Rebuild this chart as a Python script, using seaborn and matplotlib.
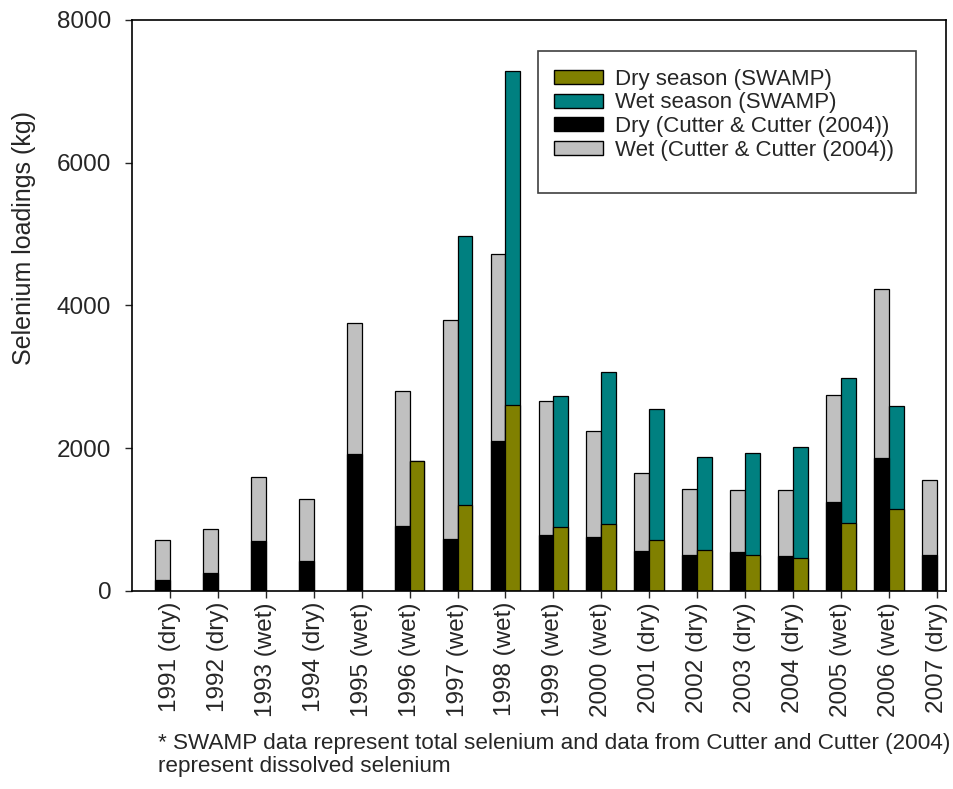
import numpy as np
import pandas as pd
import seaborn as sns
import matplotlib.pyplot as plt
from matplotlib.patches import Patch, Rectangle

years = ['1991 (dry)', '1992 (dry)', '1993 (wet)', '1994 (dry)', '1995 (wet)',
         '1996 (wet)', '1997 (wet)', '1998 (wet)', '1999 (wet)', '2000 (wet)',
         '2001 (dry)', '2002 (dry)', '2003 (dry)', '2004 (dry)', '2005 (wet)',
         '2006 (wet)', '2007 (dry)']

# Cutter & Cutter (2004), dissolved selenium (kg)
cutter_dry = [150, 250, 700, 420, 1920, 910, 730, 2100, 790, 760,
              560, 500, 550, 490, 1250, 1860, 500]
cutter_wet = [565, 620, 900, 875, 1840, 1895, 3060, 2620, 1875, 1475,
              1090, 925, 860, 920, 1490, 2375, 1060]

# SWAMP, total selenium (kg)
nan = np.nan
swamp_dry = [nan, nan, nan, nan, nan, 1820, 1205, 2600, 895, 937,
             711, 570, 500, 466, 951, 1153, nan]
swamp_wet = [nan, nan, nan, nan, nan, 0, 3765, 4690, 1835, 2128,
             1834, 1302, 1433, 1547, 2032, 1435, nan]

sources = ['Cutter', 'SWAMP']

df = pd.concat([
    pd.DataFrame({'year': years, 'source': 'Cutter',
                  'dry': cutter_dry, 'wet': cutter_wet}),
    pd.DataFrame({'year': years, 'source': 'SWAMP',
                  'dry': swamp_dry, 'wet': swamp_wet}),
], ignore_index=True)
df['total'] = df['dry'] + df['wet']

sns.set_style('ticks')
plt.rcParams['font.family'] = ['Liberation Sans', 'DejaVu Sans']

fig = plt.figure(figsize=(9.54, 7.89), dpi=100)
ax = fig.add_axes([0.1384, 0.2510, 0.8532, 0.7237])

# total (wet on top) first, then the dry part drawn over it from zero
sns.barplot(data=df, x='year', y='total', hue='source', hue_order=sources,
            order=years, palette={'Cutter': '#c0c0c0', 'SWAMP': '#008080'},
            width=0.62, dodge=True, saturation=1, errorbar=None,
            edgecolor='black', linewidth=0.9, legend=False, ax=ax)
sns.barplot(data=df, x='year', y='dry', hue='source', hue_order=sources,
            order=years, palette={'Cutter': '#000000', 'SWAMP': '#808000'},
            width=0.62, dodge=True, saturation=1, errorbar=None,
            edgecolor='black', linewidth=0.9, legend=False, ax=ax)

ax.set_xlim(-0.79, 16.19)
ax.set_ylim(0, 8000)
ax.set_yticks([0, 2000, 4000, 6000, 8000])
ax.set_xlabel('')
ax.set_ylabel('Selenium loadings (kg)', fontsize=18)
ax.yaxis.set_label_coords(-0.118, 0.618)
ax.tick_params(axis='x', labelrotation=90, labelsize=17.5, length=5, width=1, pad=3)
ax.tick_params(axis='y', labelsize=17.5, length=5, width=1, pad=10)
for s in ax.spines.values():
    s.set_linewidth(1.2)
    s.set_color('black')

handles = [Patch(facecolor='#808000', edgecolor='black', label='Dry season (SWAMP)'),
           Patch(facecolor='#008080', edgecolor='black', label='Wet season (SWAMP)'),
           Patch(facecolor='#000000', edgecolor='black', label='Dry (Cutter & Cutter (2004))'),
           Patch(facecolor='#c0c0c0', edgecolor='black', label='Wet (Cutter & Cutter (2004))')]
ax.legend(handles=handles, loc='upper left', bbox_to_anchor=(0.5075, 0.93),
          frameon=False, fontsize=16, handlelength=2.2, handleheight=0.6,
          labelspacing=0.12, handletextpad=0.55, borderaxespad=0)
# legend frame drawn separately (taller at the bottom, as in the original)
ax.add_patch(Rectangle((0.4993, 0.6971), 0.4644, 0.2486, transform=ax.transAxes,
                       fill=False, edgecolor='#404040', linewidth=1.2, zorder=5))

fig.text(0.1656, 0.071,
         '* SWAMP data represent total selenium and data from Cutter and Cutter (2004)\n'
         'represent dissolved selenium',
         fontsize=16.2, va='top', ha='left', linespacing=1.1)

fig.savefig('out.png', dpi=100)
